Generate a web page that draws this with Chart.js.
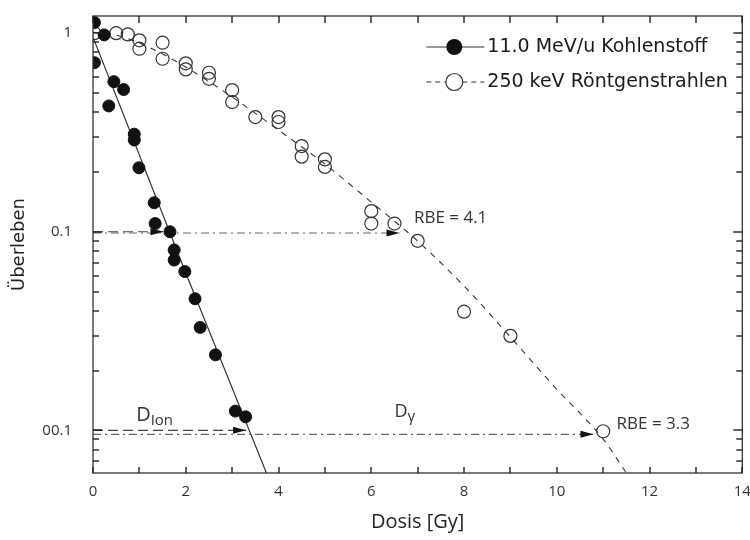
<!DOCTYPE html>
<html>
<head>
<meta charset="utf-8">
<script src="https://cdn.jsdelivr.net/npm/chart.js@4.4.1/dist/chart.umd.min.js"></script>
<style>
  html, body { margin: 0; padding: 0; background: #fff; }
  #wrap { width: 750px; height: 540px; }
</style>
</head>
<body>
<div id="wrap"><canvas id="survivalChart"></canvas></div>
<script>
// measured survival, 11.0 MeV/u carbon
const carbonDose = [0.03, 0.24, 0.03, 0.45, 0.66, 0.34, 0.89, 0.89, 0.99, 1.32, 1.34, 1.66, 1.75, 1.75, 1.98, 2.2, 2.31, 2.64, 3.07, 3.29];
const carbonSurv = [1.13, 0.98, 0.71, 0.57, 0.52, 0.43, 0.31, 0.29, 0.21, 0.14, 0.11, 0.10, 0.081, 0.072, 0.063, 0.046, 0.033, 0.024, 0.0125, 0.0117];

// measured survival, 250 keV x-rays
const xrayDose = [0.03, 0.5, 0.75, 1, 1, 1.5, 1.5, 2, 2, 2.5, 2.5, 3, 3, 3.5, 4, 4, 4.5, 4.5, 5, 5, 6, 6, 6.5, 7, 8, 9, 11];
const xraySurv = [1.0, 1.0, 0.986, 0.92, 0.835, 0.895, 0.743, 0.705, 0.657, 0.632, 0.589, 0.517, 0.45, 0.378, 0.378, 0.357, 0.27, 0.239, 0.2315, 0.212, 0.127, 0.11, 0.11, 0.09, 0.0396, 0.0299, 0.0099];

// fitted curves
const carbonFitDose = [0, 2, 3.74];
const carbonFitSurv = [0.954, 0.062, 0.0061];
const xrayFitDose = [0, 0.5, 1, 1.5, 2, 3, 4, 5, 6, 7, 8, 9, 10, 11, 11.5];
const xrayFitSurv = [1.01, 0.978, 0.892, 0.785, 0.675, 0.477, 0.325, 0.219, 0.141, 0.0898, 0.0533, 0.0295, 0.0161, 0.00904, 0.0061];

// iso-effect arrows: survival level, ion dose, x-ray dose
const isoLevel = [0.1, 0.01];
const isoIonDose = [1.52, 3.3];
const isoXrayDose = [6.61, 10.79];
const rbeLabels = ['RBE = 4.1', 'RBE = 3.3'];

// axes
const xTickMarks = [0, 1, 2, 3, 4, 5, 6, 7, 8, 9, 10, 11, 12, 13, 14];
const yTickValues = [0.01, 0.1, 1];
const yTickLabels = ['00.1', '0.1', '1'];
const yMinorMarks = [0.007, 0.008, 0.009, 0.02, 0.03, 0.04, 0.05, 0.06, 0.07, 0.08, 0.09,
                     0.2, 0.3, 0.4, 0.5, 0.6, 0.7, 0.8, 0.9];

const legendLabels = ['11.0 MeV/u Kohlenstoff', '250 keV Röntgenstrahlen'];

function pts(xs, ys) {
    return xs.map((x, i) => ({ x: x, y: ys[i] }));
}

function arrowHead(ctx, x, y) {
    ctx.beginPath();
    ctx.moveTo(x, y);
    ctx.lineTo(x - 13, y - 3.5);
    ctx.lineTo(x - 13, y + 3.5);
    ctx.closePath();
    ctx.fill();
}

const decorations = {
    id: 'decorations',
    afterDraw(chart) {
        const { ctx, chartArea: a, scales: { x, y } } = chart;
        ctx.save();
        ctx.setLineDash([]);

        // frame
        ctx.strokeStyle = '#333';
        ctx.lineWidth = 1.3;
        ctx.strokeRect(a.left, a.top, a.right - a.left, a.bottom - a.top);

        // inward ticks on all four sides
        ctx.fillStyle = '#222';
        xTickMarks.forEach(v => {
            const px = Math.round(x.getPixelForValue(v));
            ctx.fillRect(px - 0.7, a.bottom - 6, 1.4, 6);
            ctx.fillRect(px - 0.7, a.top, 1.4, 7);
        });
        yTickValues.concat(yMinorMarks).forEach(v => {
            const py = Math.round(y.getPixelForValue(v));
            const len = yTickValues.includes(v) ? 9 : 6;
            ctx.fillRect(a.left, py - 0.7, len, 1.4);
            ctx.fillRect(a.right - len, py - 0.7, len, 1.4);
        });

        // arrow heads
        ctx.fillStyle = '#111';
        isoLevel.forEach((lev, i) => {
            arrowHead(ctx, x.getPixelForValue(isoIonDose[i]), y.getPixelForValue(lev));
            arrowHead(ctx, x.getPixelForValue(isoXrayDose[i]), y.getPixelForValue(lev * (i ? 0.955 : 0.985)));
        });

        // RBE and dose labels
        ctx.fillStyle = '#333';
        ctx.textBaseline = 'middle';
        ctx.font = '17px "Open Sans"';
        ctx.fillText(rbeLabels[0], x.getPixelForValue(6.92), y.getPixelForValue(0.117));
        ctx.fillText(rbeLabels[1], x.getPixelForValue(11.29), y.getPixelForValue(0.0107));

        let dx = x.getPixelForValue(0.93), dy = y.getPixelForValue(0.0119);
        ctx.font = '20px "Open Sans"';
        ctx.fillText('D', dx, dy);
        let w = ctx.measureText('D').width;
        ctx.font = '15px "Open Sans"';
        ctx.fillText('Ion', dx + w, dy + 5);

        dx = x.getPixelForValue(6.5); dy = y.getPixelForValue(0.0124);
        ctx.font = '18px "Open Sans"';
        ctx.fillText('D', dx, dy);
        w = ctx.measureText('D').width;
        ctx.font = '15px "Open Sans"';
        ctx.fillText('γ', dx + w, dy + 5);

        // legend
        const lx = a.right - 316;
        const rows = [a.top + 31, a.top + 66];
        ctx.strokeStyle = '#333';
        ctx.lineWidth = 1.2;
        ctx.beginPath();
        ctx.moveTo(lx, rows[0]);
        ctx.lineTo(lx + 58, rows[0]);
        ctx.stroke();
        ctx.fillStyle = '#111';
        ctx.beginPath();
        ctx.arc(lx + 28, rows[0], 8, 0, Math.PI * 2);
        ctx.fill();

        ctx.setLineDash([5, 4]);
        ctx.beginPath();
        ctx.moveTo(lx, rows[1]);
        ctx.lineTo(lx + 58, rows[1]);
        ctx.stroke();
        ctx.setLineDash([]);
        ctx.fillStyle = '#fff';
        ctx.beginPath();
        ctx.arc(lx + 28, rows[1], 8.5, 0, Math.PI * 2);
        ctx.fill();
        ctx.stroke();

        ctx.fillStyle = '#1a1a1a';
        ctx.font = '19px "DejaVu Sans"';
        ctx.fillText(legendLabels[0], lx + 61, rows[0]);
        ctx.fillText(legendLabels[1], lx + 61, rows[1]);

        ctx.restore();
    }
};

const ctx = document.getElementById('survivalChart').getContext('2d');

new Chart(ctx, {
    type: 'scatter',
    data: {
        datasets: [
            {
                label: legendLabels[0],
                data: pts(carbonDose, carbonSurv),
                backgroundColor: '#111',
                borderColor: '#111',
                pointRadius: 6,
                pointHoverRadius: 6,
                clip: 0,
                order: 0
            },
            {
                label: legendLabels[1],
                data: pts(xrayDose, xraySurv),
                backgroundColor: 'rgba(0,0,0,0)',
                borderColor: '#333',
                borderWidth: 1.2,
                pointRadius: 6.5,
                pointHoverRadius: 6.5,
                clip: 0,
                order: 1
            },
            {
                label: 'fit C',
                data: pts(carbonFitDose, carbonFitSurv),
                showLine: true,
                borderColor: '#333',
                borderWidth: 1.2,
                pointRadius: 0,
                order: 2
            },
            {
                label: 'fit X',
                data: pts(xrayFitDose, xrayFitSurv),
                showLine: true,
                borderColor: '#333',
                borderWidth: 1.1,
                borderDash: [6, 6],
                cubicInterpolationMode: 'monotone',
                pointRadius: 0,
                order: 2
            },
            {
                label: 'iso ion 0.1',
                data: [{ x: 0, y: isoLevel[0] }, { x: isoIonDose[0], y: isoLevel[0] }],
                showLine: true,
                borderColor: '#444',
                borderWidth: 1.1,
                borderDash: [10, 5],
                pointRadius: 0,
                order: 3
            },
            {
                label: 'iso ion 0.01',
                data: [{ x: 0, y: isoLevel[1] }, { x: isoIonDose[1], y: isoLevel[1] }],
                showLine: true,
                borderColor: '#444',
                borderWidth: 1.1,
                borderDash: [10, 5],
                pointRadius: 0,
                order: 3
            },
            {
                label: 'iso x 0.1',
                data: [{ x: 0, y: isoLevel[0] * 0.985 }, { x: isoXrayDose[0], y: isoLevel[0] * 0.985 }],
                showLine: true,
                borderColor: '#666',
                borderWidth: 1.1,
                borderDash: [8, 4, 2, 4],
                pointRadius: 0,
                order: 4
            },
            {
                label: 'iso x 0.01',
                data: [{ x: 0, y: isoLevel[1] * 0.955 }, { x: isoXrayDose[1], y: isoLevel[1] * 0.955 }],
                showLine: true,
                borderColor: '#666',
                borderWidth: 1.1,
                borderDash: [8, 4, 2, 4],
                pointRadius: 0,
                order: 4
            }
        ]
    },
    options: {
        responsive: true,
        maintainAspectRatio: false,
        animation: false,
        layout: { padding: { top: 16, right: 3.5, left: 0, bottom: 0 } },
        plugins: {
            legend: { display: false },
            tooltip: { enabled: false }
        },
        scales: {
            x: {
                type: 'linear',
                min: 0,
                max: 14,
                grid: { display: false },
                border: { display: false },
                ticks: {
                    stepSize: 2,
                    padding: 2,
                    color: '#333',
                    font: { family: 'Open Sans', size: 15 }
                },
                title: {
                    display: true,
                    text: 'Dosis [Gy]',
                    color: '#222',
                    font: { family: 'Open Sans', size: 20 },
                    padding: { top: 0, bottom: 6 }
                },
                afterFit(scale) {
                    scale.height = 67;
                    scale.paddingLeft = 0;
                    scale.paddingRight = 0;
                }
            },
            y: {
                type: 'logarithmic',
                min: 0.0061,
                max: 1.22,
                grid: { display: false },
                border: { display: false },
                afterBuildTicks(scale) {
                    scale.ticks = yTickValues.map(v => ({ value: v }));
                },
                ticks: {
                    padding: 13,
                    color: '#333',
                    font: { family: 'Open Sans', size: 15 },
                    callback: (v) => yTickLabels[yTickValues.indexOf(v)]
                },
                title: {
                    display: true,
                    text: 'Überleben',
                    color: '#222',
                    font: { family: 'DejaVu Sans', size: 18 },
                    padding: { top: 9, bottom: 0 }
                },
                afterFit(scale) {
                    scale.width = 93;
                    scale.paddingTop = 0;
                    scale.paddingBottom = 0;
                }
            }
        }
    },
    plugins: [decorations]
});
</script>
</body>
</html>
